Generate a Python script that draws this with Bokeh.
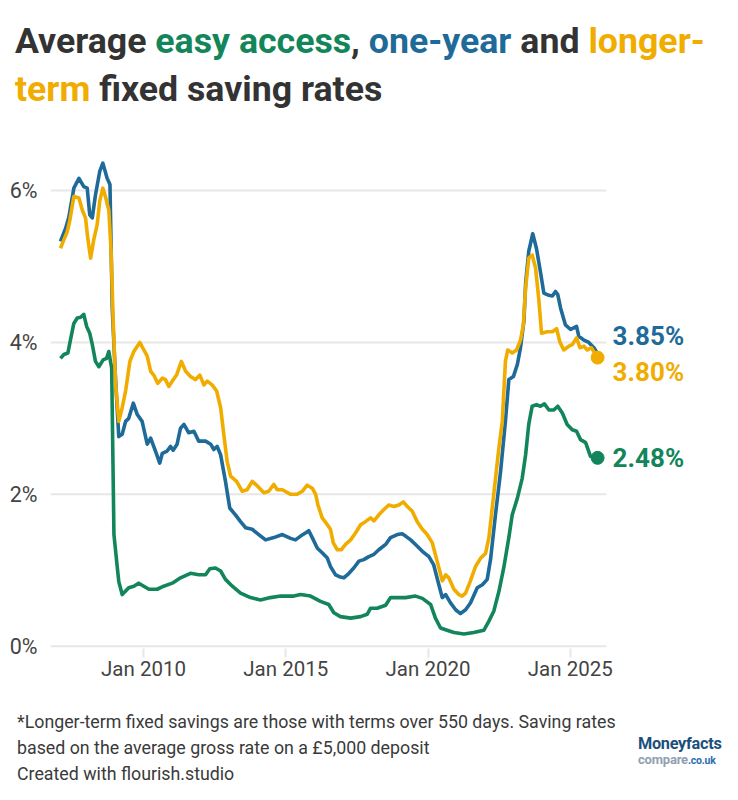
from bokeh.plotting import figure
from bokeh.models import Range1d, FixedTicker, Label, Div
from bokeh.layouts import column, row
from bokeh.embed import file_html
from bokeh.resources import INLINE

GREEN = "#12865a"
BLUE = "#1e6a98"
YELLOW = "#f0ad00"
DARK = "#333333"
GRID = "#e7e7e7"

# ---- data (decimal years, % rates) ----
one_year_t = [2007.08, 2007.26, 2007.37, 2007.55, 2007.73, 2007.90, 2008.02, 2008.11, 2008.20, 2008.31,
              2008.46, 2008.57, 2008.72, 2008.82, 2008.90, 2009.02, 2009.13, 2009.25, 2009.37, 2009.48,
              2009.64, 2009.78, 2009.95, 2010.13, 2010.25, 2010.42, 2010.57, 2010.66, 2010.83, 2010.95,
              2011.04, 2011.18, 2011.30, 2011.42, 2011.59, 2011.77, 2011.94, 2012.18, 2012.36, 2012.47,
              2012.59, 2012.71, 2012.88, 2013.03, 2013.23, 2013.41, 2013.59, 2013.82, 2014.05, 2014.29,
              2014.58, 2014.88, 2015.17, 2015.34, 2015.52, 2015.69, 2015.81, 2015.93, 2016.11, 2016.28,
              2016.46, 2016.57, 2016.75, 2016.92, 2017.04, 2017.22, 2017.39, 2017.57, 2017.74, 2017.92,
              2018.10, 2018.27, 2018.51, 2018.68, 2018.92, 2019.09, 2019.21, 2019.39, 2019.56, 2019.80,
              2020.03, 2020.20, 2020.38, 2020.50, 2020.62, 2020.79, 2020.97, 2021.14, 2021.32, 2021.49,
              2021.73, 2021.91, 2022.08, 2022.20, 2022.37, 2022.55, 2022.72, 2022.84, 2023.00, 2023.14,
              2023.25, 2023.37, 2023.43, 2023.54, 2023.68, 2023.81, 2023.95, 2024.07, 2024.25, 2024.37,
              2024.48, 2024.56, 2024.66, 2024.83, 2025.01, 2025.12, 2025.22, 2025.30, 2025.48, 2025.65,
              2025.83, 2025.96]
one_year = [5.33, 5.50, 5.64, 6.03, 6.16, 6.05, 6.03, 5.68, 5.64, 5.94,
            6.25, 6.36, 6.16, 6.08, 4.45, 3.49, 2.76, 2.79, 2.96, 3.00,
            3.20, 3.05, 2.96, 2.66, 2.74, 2.57, 2.41, 2.54, 2.57, 2.63,
            2.58, 2.66, 2.87, 2.92, 2.81, 2.83, 2.70, 2.70, 2.66, 2.59,
            2.63, 2.52, 2.17, 1.82, 1.73, 1.64, 1.56, 1.54, 1.47, 1.40,
            1.43, 1.47, 1.42, 1.40, 1.45, 1.49, 1.52, 1.43, 1.29, 1.23,
            1.16, 1.05, 0.94, 0.91, 0.90, 0.96, 1.03, 1.12, 1.14, 1.18,
            1.21, 1.27, 1.34, 1.43, 1.47, 1.48, 1.45, 1.40, 1.34, 1.25,
            1.18, 1.07, 0.81, 0.64, 0.68, 0.57, 0.48, 0.43, 0.48, 0.57,
            0.77, 0.81, 0.88, 1.15, 1.73, 2.30, 2.96, 3.51, 3.55, 3.71,
            3.93, 4.28, 4.78, 5.20, 5.43, 5.24, 4.93, 4.65, 4.62, 4.61,
            4.67, 4.63, 4.45, 4.23, 4.17, 4.19, 4.21, 4.08, 4.03, 4.00,
            3.93, 3.85]

longer_t = [2007.08, 2007.20, 2007.32, 2007.41, 2007.55, 2007.73, 2007.85, 2007.96, 2008.04, 2008.14,
            2008.25, 2008.37, 2008.46, 2008.57, 2008.66, 2008.78, 2008.86, 2008.93, 2009.02, 2009.13,
            2009.25, 2009.37, 2009.52, 2009.66, 2009.78, 2009.87, 2010.01, 2010.13, 2010.25, 2010.36,
            2010.50, 2010.66, 2010.77, 2010.89, 2011.01, 2011.16, 2011.33, 2011.48, 2011.65, 2011.83,
            2011.98, 2012.12, 2012.24, 2012.41, 2012.57, 2012.71, 2012.82, 2012.94, 2013.06, 2013.27,
            2013.47, 2013.64, 2013.82, 2014.00, 2014.23, 2014.40, 2014.58, 2014.70, 2014.88, 2015.17,
            2015.40, 2015.58, 2015.75, 2015.93, 2016.05, 2016.13, 2016.28, 2016.46, 2016.57, 2016.67,
            2016.81, 2016.95, 2017.10, 2017.28, 2017.45, 2017.63, 2017.80, 2017.98, 2018.10, 2018.27,
            2018.45, 2018.62, 2018.80, 2018.97, 2019.13, 2019.27, 2019.44, 2019.62, 2019.80, 2019.97,
            2020.15, 2020.32, 2020.50, 2020.62, 2020.73, 2020.91, 2021.08, 2021.20, 2021.32, 2021.49,
            2021.67, 2021.85, 2022.02, 2022.14, 2022.31, 2022.49, 2022.61, 2022.72, 2022.80, 2022.96,
            2023.11, 2023.25, 2023.35, 2023.43, 2023.54, 2023.66, 2023.78, 2023.89, 2023.99, 2024.19,
            2024.37, 2024.52, 2024.63, 2024.77, 2024.95, 2025.07, 2025.22, 2025.34, 2025.48, 2025.60,
            2025.74, 2025.96]
longer = [5.24, 5.35, 5.46, 5.61, 5.92, 5.90, 5.74, 5.64, 5.37, 5.11,
          5.35, 5.55, 5.86, 6.03, 5.92, 5.74, 5.20, 4.32, 3.44, 2.96,
          3.14, 3.36, 3.75, 3.88, 3.95, 4.00, 3.90, 3.82, 3.62, 3.57,
          3.46, 3.53, 3.51, 3.42, 3.49, 3.57, 3.75, 3.62, 3.55, 3.51,
          3.57, 3.44, 3.49, 3.44, 3.36, 3.14, 2.79, 2.43, 2.24, 2.17,
          2.04, 2.06, 2.17, 2.11, 2.02, 2.04, 2.13, 2.06, 2.06, 2.00,
          2.00, 2.04, 2.12, 2.08, 2.00, 1.86, 1.69, 1.60, 1.54, 1.36,
          1.27, 1.27, 1.34, 1.40, 1.49, 1.60, 1.64, 1.69, 1.65, 1.73,
          1.80, 1.86, 1.84, 1.86, 1.90, 1.84, 1.78, 1.64, 1.54, 1.47,
          1.36, 1.12, 0.86, 0.94, 0.90, 0.75, 0.68, 0.66, 0.70, 0.86,
          1.05, 1.16, 1.22, 1.43, 2.00, 2.61, 2.96, 3.75, 3.90, 3.86,
          3.90, 4.03, 4.23, 4.72, 5.11, 5.15, 4.98, 4.58, 4.12, 4.14,
          4.14, 4.18, 4.01, 3.90, 3.95, 3.97, 4.06, 3.93, 3.95, 3.90,
          3.93, 3.80]

easy_t = [2007.08, 2007.20, 2007.34, 2007.43, 2007.55, 2007.67, 2007.79, 2007.90, 2008.00, 2008.11,
          2008.20, 2008.31, 2008.43, 2008.58, 2008.70, 2008.78, 2008.88, 2008.96, 2009.08, 2009.13,
          2009.25, 2009.48, 2009.66, 2009.83, 2010.01, 2010.19, 2010.48, 2010.71, 2011.01, 2011.30,
          2011.65, 2011.94, 2012.18, 2012.33, 2012.53, 2012.71, 2012.88, 2013.12, 2013.41, 2013.76,
          2014.11, 2014.46, 2014.82, 2015.28, 2015.52, 2015.87, 2016.22, 2016.51, 2016.69, 2016.92,
          2017.28, 2017.63, 2017.86, 2017.98, 2018.21, 2018.51, 2018.68, 2018.92, 2019.21, 2019.56,
          2019.80, 2020.09, 2020.26, 2020.44, 2020.67, 2020.91, 2021.26, 2021.61, 2021.96, 2022.14,
          2022.31, 2022.49, 2022.66, 2022.84, 2022.96, 2023.14, 2023.31, 2023.43, 2023.54, 2023.66,
          2023.81, 2023.95, 2024.09, 2024.25, 2024.42, 2024.56, 2024.72, 2024.89, 2025.07, 2025.22,
          2025.36, 2025.54, 2025.71, 2025.96]
easy = [3.79, 3.84, 3.86, 4.03, 4.25, 4.32, 4.33, 4.37, 4.21, 4.12,
        3.97, 3.75, 3.68, 3.77, 3.79, 3.88, 3.66, 1.47, 1.03, 0.85,
        0.68, 0.77, 0.79, 0.83, 0.79, 0.75, 0.75, 0.79, 0.83, 0.90,
        0.96, 0.94, 0.94, 1.02, 1.03, 0.99, 0.88, 0.79, 0.70, 0.64,
        0.61, 0.64, 0.66, 0.66, 0.68, 0.66, 0.59, 0.55, 0.44, 0.39,
        0.37, 0.39, 0.42, 0.50, 0.50, 0.54, 0.64, 0.64, 0.64, 0.66,
        0.63, 0.55, 0.37, 0.24, 0.21, 0.18, 0.16, 0.18, 0.21, 0.33,
        0.46, 0.72, 1.03, 1.43, 1.73, 1.95, 2.21, 2.52, 2.92, 3.16,
        3.18, 3.16, 3.19, 3.11, 3.11, 3.16, 3.07, 2.92, 2.85, 2.83,
        2.72, 2.68, 2.50, 2.48]

x_ticks = [2010, 2015, 2020, 2025]
x_tick_labels = ["Jan 2010", "Jan 2015", "Jan 2020", "Jan 2025"]
y_ticks = [0, 2, 4, 6]
y_tick_labels = ["0%", "2%", "4%", "6%"]

# axis window (styling)
X_LO, GRID_HI, X_HI = 2006.73, 2026.27, 2030.35

# ---- title ----
title_html = (
    f'<div style="font-family:Roboto;font-weight:700;font-size:35.7px;line-height:48px;'
    f'color:{DARK};padding:12px 0 0 10px;white-space:nowrap;">'
    f'Average <span style="color:{GREEN}">easy access</span>, '
    f'<span style="color:{BLUE}">one-year</span> and '
    f'<span style="color:{YELLOW}">longer-</span><br>'
    f'<span style="color:{YELLOW}">term</span> fixed saving rates</div>'
)
title = Div(text=title_html, width=722, height=110)

# ---- chart ----
p = figure(width=722, height=584, x_range=Range1d(X_LO, X_HI),
           y_range=Range1d(-0.03, 6.5), output_backend="svg", toolbar_location=None,
           min_border_left=50, min_border_right=0, min_border_top=32, min_border_bottom=56)
p.outline_line_color = None
p.background_fill_color = "white"
p.border_fill_color = "white"
p.xgrid.visible = False
p.ygrid.visible = False

# horizontal gridlines stopping short of the end labels
p.segment(x0=[X_LO] * len(y_ticks), x1=[GRID_HI] * len(y_ticks), y0=y_ticks, y1=y_ticks,
          line_color=GRID, line_width=2)

p.xaxis.ticker = FixedTicker(ticks=x_ticks)
p.xaxis.major_label_overrides = dict(zip(x_ticks, x_tick_labels))
p.xaxis.axis_line_color = None
p.xaxis.major_tick_line_color = GRID
p.xaxis.major_tick_line_width = 2
p.xaxis.major_tick_out = 9
p.xaxis.major_tick_in = 0
p.xaxis.minor_tick_line_color = None
p.xaxis.major_label_text_font = "Roboto"
p.xaxis.major_label_text_font_size = "20.5px"
p.xaxis.major_label_text_color = "#444444"
p.xaxis.major_label_standoff = -1

p.yaxis.ticker = FixedTicker(ticks=y_ticks)
p.yaxis.major_label_overrides = dict(zip(y_ticks, y_tick_labels))
p.yaxis.axis_line_color = None
p.yaxis.major_tick_line_color = None
p.yaxis.minor_tick_line_color = None
p.yaxis.major_label_text_font = "Roboto"
p.yaxis.major_label_text_font_size = "21.5px"
p.yaxis.major_label_text_color = "#444444"
p.yaxis.major_label_standoff = 7

lw = 3.6
p.line(easy_t, easy, line_color=GREEN, line_width=lw, line_join="round")
p.line(one_year_t, one_year, line_color=BLUE, line_width=lw, line_join="round")
p.line(longer_t, longer, line_color=YELLOW, line_width=lw, line_join="round")

p.scatter([easy_t[-1]], [easy[-1]], size=13, color=GREEN)
p.scatter([longer_t[-1]], [longer[-1]], size=13, color=YELLOW)

for t_, v_, col, dy in [(one_year_t[-1], one_year[-1], BLUE, 18),
                        (longer_t[-1], longer[-1], YELLOW, -14),
                        (easy_t[-1], easy[-1], GREEN, 0)]:
    p.add_layout(Label(x=t_, y=v_, x_offset=15, y_offset=dy, text=f"{v_:.2f}%",
                       text_font="Roboto", text_font_style="bold", text_font_size="26px",
                       text_color=col, text_baseline="middle", text_align="left"))

# ---- footer ----
foot_html = (
    '<div style="font-family:Roboto;font-size:17.8px;line-height:26px;color:#3a3a3a;'
    'padding:0 0 0 12px;white-space:nowrap;">'
    '*Longer-term fixed savings are those with terms over 550 days. Saving rates<br>'
    'based on the average gross rate on a £5,000 deposit<br>'
    'Created with flourish.studio</div>'
)
foot = Div(text=foot_html, width=620, height=80)
logo_html = (
    '<div style="font-family:Roboto;font-weight:700;padding:25px 0 0 3px;white-space:nowrap;">'
    '<div style="font-size:16.3px;line-height:normal;color:#1d4f7c;letter-spacing:-0.3px;">Moneyfacts</div>'
    '<div style="font-size:13px;line-height:normal;color:#8fa0b0;margin-top:-1px;letter-spacing:-0.2px;">compare'
    '<span style="font-size:10.5px;color:#2a6fb0;">.co.uk</span></div></div>'
)
logo = Div(text=logo_html, width=102, height=80)

layout = column(title, p, row(foot, logo))
open("out.html", "w").write(file_html(layout, INLINE))
